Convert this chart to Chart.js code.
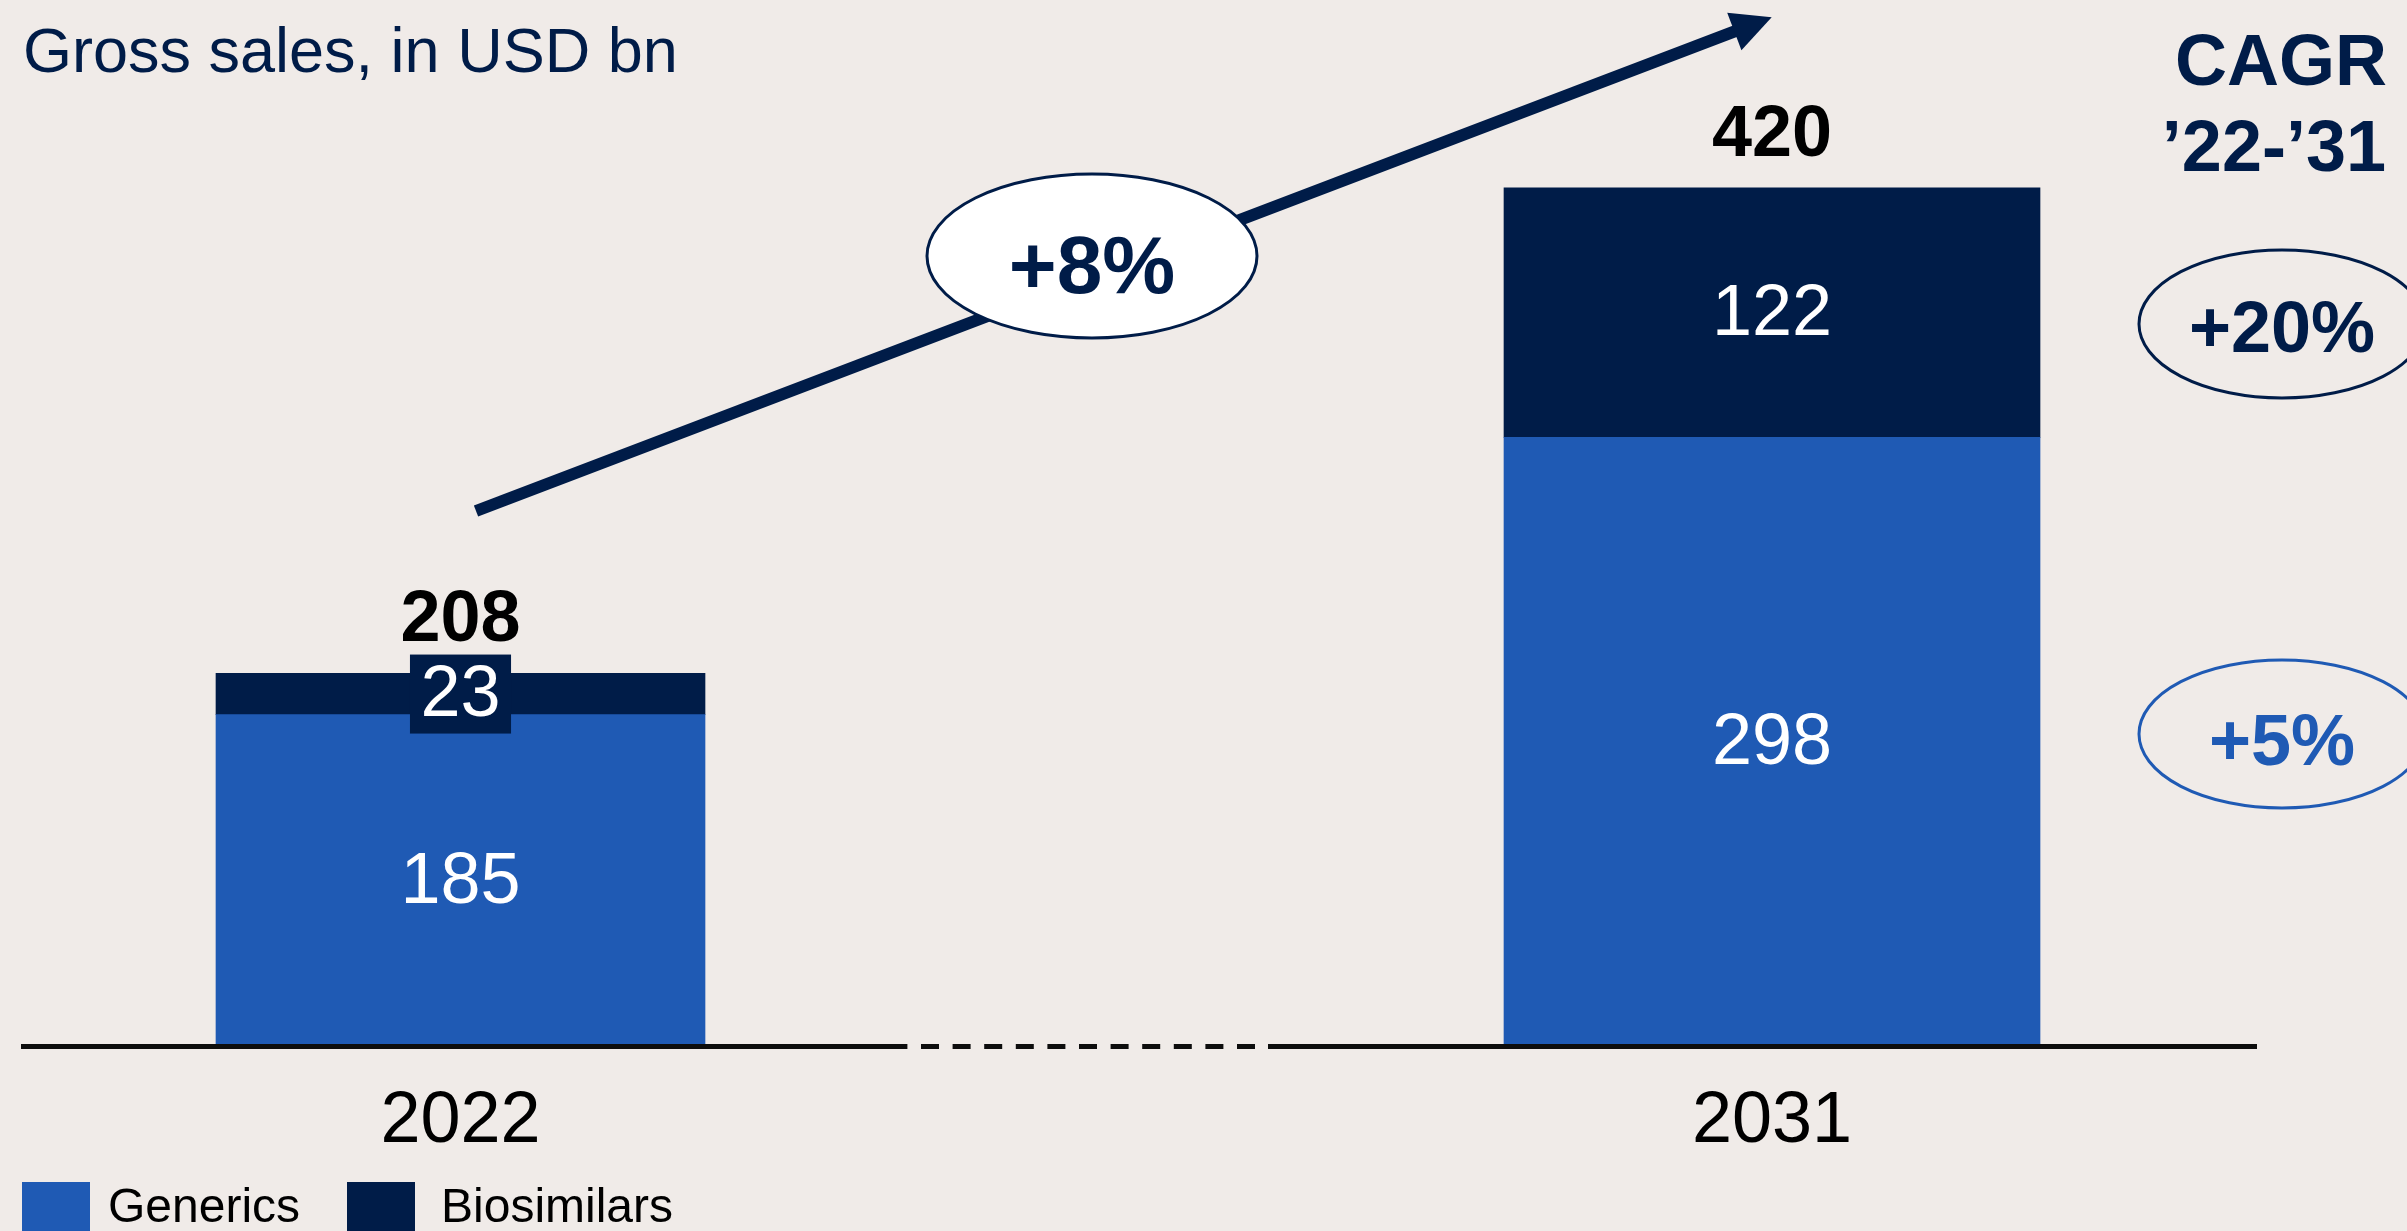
<!DOCTYPE html>
<html>
<head>
<meta charset="utf-8">
<title>Generics and biosimilars gross sales</title>
<script src="https://cdn.jsdelivr.net/npm/chart.js@4/dist/chart.umd.min.js"></script>
<style>
  html, body { margin: 0; padding: 0; background: #f0ebe8; overflow: hidden; }
  canvas { display: block; }
</style>
</head>
<body>
<canvas id="chart" width="2407" height="1231"></canvas>
<script>
// ---- data ----
const years = ['2022', '2031'];
const generics = [185, 298];
const biosimilars = [23, 122];
const seriesNames = ['Generics', 'Biosimilars'];
const subtitle = 'Gross sales, in USD bn';
const cagrHeader = ['CAGR', '\u201922-\u201931'];
const cagrTotal = '+8%';
const cagrBiosimilars = '+20%';
const cagrGenerics = '+5%';

// ---- styling ----
const BLUE = '#1f5ab4';
const NAVY = '#001c48';
const BG = '#f0ebe8';
const FONT = '"Liberation Sans", Arial, Helvetica, sans-serif';
const barWidths = [489, 536];
const axisIds = ['yA', 'yB'];

Chart.defaults.font.family = FONT;

// one pair of stacked datasets per year so each column keeps its own width and axis
const datasets = [];
years.forEach((yr, i) => {
  [[seriesNames[0], generics, BLUE], [seriesNames[1], biosimilars, NAVY]].forEach(([name, vals, color]) => {
    datasets.push({
      label: name,
      series: name,
      yearIndex: i,
      data: years.map((_, j) => (j === i ? vals[j] : null)),
      backgroundColor: color,
      borderWidth: 0,
      barThickness: barWidths[i],
      yAxisID: axisIds[i],
      stack: 'sales',
      clip: false
    });
  });
});

function text(ctx, str, x, y, font, color, align) {
  ctx.font = font;
  ctx.fillStyle = color;
  ctx.textAlign = align || 'center';
  ctx.textBaseline = 'alphabetic';
  ctx.fillText(str, x, y);
}

function ellipse(ctx, cx, cy, rx, ry, stroke, fill) {
  ctx.beginPath();
  ctx.ellipse(cx, cy, rx, ry, 0, 0, Math.PI * 2);
  if (fill) { ctx.fillStyle = fill; ctx.fill(); }
  ctx.lineWidth = 3;
  ctx.strokeStyle = stroke;
  ctx.stroke();
}

const decorations = {
  id: 'decorations',
  beforeDraw(chart) {
    const ctx = chart.ctx;
    ctx.save();
    ctx.fillStyle = BG;
    ctx.fillRect(0, 0, chart.width, chart.height);
    ctx.restore();
  },
  afterDatasetsDraw(chart) {
    const ctx = chart.ctx;
    ctx.save();
    const tops = [];
    chart.data.datasets.forEach((ds, di) => {
      const meta = chart.getDatasetMeta(di);
      meta.data.forEach((el, idx) => {
        const v = ds.data[idx];
        if (v === null || v === undefined) return;
        const top = Math.min(el.y, el.base);
        const bottom = Math.max(el.y, el.base);
        const cy = (top + bottom) / 2;
        if (tops[idx] === undefined || top < tops[idx].y) tops[idx] = { x: el.x, y: top };
        const label = String(v);
        ctx.font = '72px ' + FONT;
        if (bottom - top < 70) {
          // thin segment: give the value its own tab in the segment colour
          const w = ctx.measureText(label).width + 21;
          ctx.fillStyle = ds.backgroundColor;
          ctx.fillRect(el.x - w / 2, cy - 39.5, w, 79);
        }
        text(ctx, label, el.x, cy + 22, '72px ' + FONT, '#ffffff', 'center');
      });
    });
    // column totals
    tops.forEach((t, idx) => {
      if (!t) return;
      const total = generics[idx] + biosimilars[idx];
      text(ctx, String(total), t.x, t.y - 32, 'bold 72px ' + FONT, '#000000', 'center');
    });
    ctx.restore();
  },
  afterDraw(chart) {
    const ctx = chart.ctx;
    const base = chart.chartArea.bottom;
    ctx.save();

    // broken baseline: solid, dashed gap, solid
    ctx.strokeStyle = '#0d0d0d';
    ctx.lineWidth = 5;
    ctx.beginPath();
    ctx.moveTo(21, base); ctx.lineTo(907, base);
    ctx.moveTo(1268, base); ctx.lineTo(2257, base);
    ctx.stroke();
    ctx.setLineDash([18, 13.6]);
    ctx.lineDashOffset = -14;
    ctx.beginPath();
    ctx.moveTo(907, base); ctx.lineTo(1268, base);
    ctx.stroke();
    ctx.setLineDash([]);

    // growth arrow
    const sx = 476, sy = 511, tx = 1771.7, ty = 17.3;
    const len = Math.hypot(tx - sx, ty - sy);
    const ux = (tx - sx) / len, uy = (ty - sy) / len;
    const nx = -uy, ny = ux;
    const hl = 40, hw = 20;
    const bx = tx - ux * hl, by = ty - uy * hl;
    ctx.strokeStyle = NAVY;
    ctx.lineWidth = 12;
    ctx.lineCap = 'butt';
    ctx.beginPath();
    ctx.moveTo(sx, sy);
    ctx.lineTo(bx + ux * 6, by + uy * 6);
    ctx.stroke();
    ctx.fillStyle = NAVY;
    ctx.beginPath();
    ctx.moveTo(tx, ty);
    ctx.lineTo(bx + nx * hw, by + ny * hw);
    ctx.lineTo(bx - nx * hw, by - ny * hw);
    ctx.closePath();
    ctx.fill();

    ellipse(ctx, 1092, 256, 165, 82, NAVY, '#ffffff');
    text(ctx, cagrTotal, 1092, 293, 'bold 82px ' + FONT, NAVY, 'center');

    // CAGR column
    text(ctx, cagrHeader[0], 2387, 85, 'bold 72px ' + FONT, NAVY, 'right');
    text(ctx, cagrHeader[1], 2386, 171, 'bold 72px ' + FONT, NAVY, 'right');
    ellipse(ctx, 2282, 324, 143, 74, NAVY, null);
    text(ctx, cagrBiosimilars, 2282, 352, 'bold 72px ' + FONT, NAVY, 'center');
    ellipse(ctx, 2282, 734, 143, 74, BLUE, null);
    text(ctx, cagrGenerics, 2282, 765, 'bold 72px ' + FONT, BLUE, 'center');

    // subtitle
    text(ctx, subtitle, 23, 72, '63px ' + FONT, NAVY, 'left');

    // legend
    const legendItems = [
      { name: seriesNames[0], color: BLUE, bx: 22, tx: 108 },
      { name: seriesNames[1], color: NAVY, bx: 347, tx: 441 }
    ];
    legendItems.forEach(it => {
      ctx.fillStyle = it.color;
      ctx.fillRect(it.bx, 1182, 68, 60);
      text(ctx, it.name, it.tx, 1222, '48px ' + FONT, '#000000', 'left');
    });

    ctx.restore();
  }
};

new Chart(document.getElementById('chart'), {
  type: 'bar',
  data: { labels: years, datasets },
  options: {
    responsive: false,
    devicePixelRatio: 1,
    animation: false,
    events: [],
    layout: { padding: { top: 6, left: 460.5, right: 635, bottom: 34 } },
    plugins: { legend: { display: false }, tooltip: { enabled: false } },
    scales: {
      x: {
        type: 'category',
        offset: false,
        grid: { display: false, drawTicks: false },
        border: { display: false },
        ticks: { font: { size: 72 }, color: '#000000', padding: 32, maxRotation: 0, autoSkip: false }
      },
      yA: { display: false, stacked: true, min: 0, max: 580 },
      yB: { display: false, stacked: true, min: 0, max: 509 }
    }
  },
  plugins: [decorations]
});
</script>
</body>
</html>
